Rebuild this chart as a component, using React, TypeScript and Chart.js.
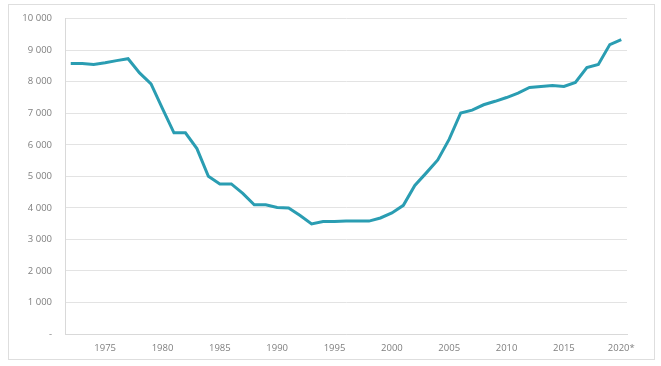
import React, { useEffect, useRef } from "react";
import { Chart, registerables } from "chart.js";

Chart.register(...registerables);

const years: number[] = [
  1972, 1973, 1974, 1975, 1976, 1977, 1978, 1979, 1980, 1981, 1982, 1983, 1984,
  1985, 1986, 1987, 1988, 1989, 1990, 1991, 1992, 1993, 1994, 1995, 1996, 1997,
  1998, 1999, 2000, 2001, 2002, 2003, 2004, 2005, 2006, 2007, 2008, 2009, 2010,
  2011, 2012, 2013, 2014, 2015, 2016, 2017, 2018, 2019, 2020,
];

const values: number[] = [
  8580, 8580, 8550, 8600, 8670, 8730, 8280, 7930, 7150, 6380, 6380, 5880, 5000,
  4760, 4760, 4460, 4100, 4100, 4010, 4000, 3760, 3490, 3570, 3570, 3580, 3580,
  3580, 3680, 3840, 4080, 4710, 5110, 5520, 6180, 7010, 7100, 7270, 7380, 7500,
  7640, 7820, 7850, 7880, 7850, 7980, 8450, 8550, 9180, 9340,
];

const labeledYears: number[] = [1975, 1980, 1985, 1990, 1995, 2000, 2005, 2010, 2015, 2020];
const lastLabel = "2020*";

const fmt = (v: number): string => {
  if (v === 0) return "-";
  return String(v).replace(/\B(?=(\d{3})+(?!\d))/g, " ");
};

export default function App() {
  const ref = useRef<HTMLCanvasElement>(null);
  useEffect(() => {
    if (!ref.current) return;
    const chart = new Chart(ref.current, {
      type: "line",
      data: {
        labels: years.map(String),
        datasets: [
          {
            data: values,
            borderColor: "#2A9DB2",
            borderWidth: 3,
            pointRadius: 0,
            tension: 0,
            fill: false,
          },
        ],
      },
      options: {
        responsive: false,
        animation: false,
        layout: { padding: { left: 0, right: 34, top: 16, bottom: 0 } },
        plugins: { legend: { display: false }, tooltip: { enabled: false } },
        scales: {
          x: {
            offset: true,
            grid: { display: false, drawTicks: false },
            border: { display: true, color: "#d9d9d9", width: 1 },
            ticks: {
              autoSkip: false,
              maxRotation: 0,
              padding: 9,
              color: "#7f7f7f",
              font: { family: "'Open Sans', sans-serif", size: 9.5 },
              callback: (_v: any, i: number) => {
                const y = years[i];
                if (y === 2020) return lastLabel;
                return labeledYears.includes(y) ? String(y) : "";
              },
            },
            afterFit: (s: any) => {
              s.height = 32;
            },
          },
          y: {
            min: 0,
            max: 10000,
            grid: { color: "#e3e3e3", drawTicks: false },
            border: { display: true, color: "#d9d9d9", width: 1 },
            ticks: {
              stepSize: 1000,
              padding: 13,
              color: "#7f7f7f",
              font: { family: "'Open Sans', sans-serif", size: 9.5 },
              callback: (v: any) => fmt(Number(v)),
            },
            afterFit: (s: any) => {
              s.width = 65;
            },
          },
        },
      },
    });
    return () => chart.destroy();
  }, []);
  return (
    <div style={{ position: "fixed", left: 0, top: 0, width: 661, height: 366, background: "#fff" }}>
      <canvas ref={ref} width={661} height={366} style={{ position: "absolute", left: 0, top: 0 }} />
      <div
        style={{
          position: "absolute",
          left: 8,
          top: 4,
          width: 647,
          height: 356,
          border: "1px solid #dedede",
          boxSizing: "border-box",
          pointerEvents: "none",
        }}
      />
    </div>
  );
}
